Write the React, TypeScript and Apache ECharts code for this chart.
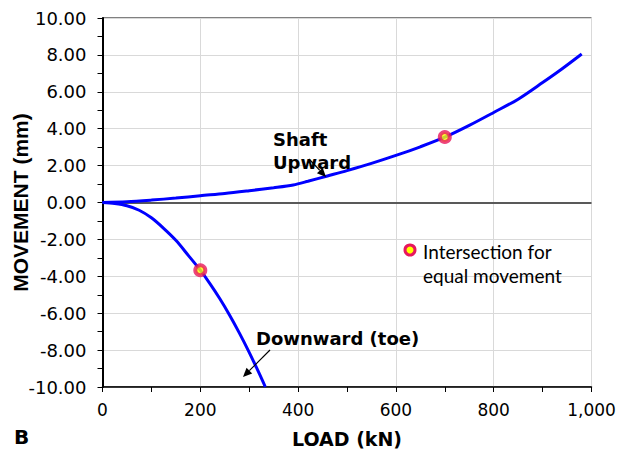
import React, { useEffect, useRef } from "react";
import * as echarts from "echarts";

// Load (kN) vs movement (mm)
const shaftLoad = [0, 50, 100, 150, 200, 250, 300, 350, 390, 420, 460, 500, 550, 600, 650, 700, 750, 800, 850, 900, 940, 980];
const shaftMove = [0, 0.04, 0.13, 0.24, 0.37, 0.49, 0.64, 0.8, 0.95, 1.15, 1.44, 1.73, 2.12, 2.55, 3.02, 3.54, 4.18, 4.88, 5.6, 6.5, 7.25, 8.05];

const toeLoad = [0, 25, 50, 75, 100, 125, 150, 175, 200, 220, 240, 260, 280, 300, 320, 333];
const toeMove = [0, -0.06, -0.18, -0.42, -0.83, -1.4, -2.05, -2.85, -3.67, -4.41, -5.22, -6.11, -7.08, -8.12, -9.24, -10];

const intersectLoad = [700, 200];
const intersectMove = [3.55, -3.67];

const FONT = "DejaVu Sans";

function arrow(x1: number, y1: number, x2: number, y2: number) {
  const ang = Math.atan2(y2 - y1, x2 - x1);
  const L = 9, W = 4;
  const bx = x2 - L * Math.cos(ang), by = y2 - L * Math.sin(ang);
  const px = -Math.sin(ang) * W, py = Math.cos(ang) * W;
  return [
    { type: "line", z: 10, shape: { x1, y1, x2: bx, y2: by }, style: { stroke: "#000", lineWidth: 1.2 } },
    { type: "polygon", z: 10, shape: { points: [[x2, y2], [bx + px, by + py], [bx - px, by - py]] }, style: { fill: "#000" } },
  ];
}

export default function App() {
  const ref = useRef<HTMLDivElement>(null);
  useEffect(() => {
    document.body.style.margin = "0";
    const chart = echarts.init(ref.current!, undefined, { renderer: "svg" });
    const shaft = shaftLoad.map((x, i) => [x, shaftMove[i]]);
    const toe = toeLoad.map((x, i) => [x, toeMove[i]]);
    const inter = intersectLoad.map((x, i) => [x, intersectMove[i]]);
    chart.setOption({
      animation: false,
      backgroundColor: "#fff",
      grid: {
        left: 102.5, right: 29.5, top: 18, bottom: 66,
        show: true, borderColor: "#000", borderWidth: 1,
        outerBoundsMode: "none",
      },
      xAxis: {
        type: "value", min: 0, max: 1000, interval: 200,
        name: "LOAD (kN)", nameLocation: "middle", nameGap: 42, nameMoveOverlap: false,
        nameTextStyle: { fontFamily: FONT, fontWeight: "bold", fontSize: 19, color: "#000" },
        axisLine: { onZero: false, lineStyle: { color: "#000", width: 1.5 } },
        axisTick: { show: true, length: 5, lineStyle: { color: "#000" } },
        minorTick: { show: true, splitNumber: 2, length: 5, lineStyle: { color: "#000" } },
        splitLine: { show: true, lineStyle: { color: "#d9d9d9", width: 1 } },
        axisLabel: {
          fontFamily: FONT, fontSize: 17, color: "#000", margin: 14,
          alignMinLabel: "center", alignMaxLabel: "center",
          formatter: (v: number) => v.toLocaleString("en-US"),
        },
      },
      yAxis: {
        type: "value", min: -10, max: 10, interval: 2,
        name: "MOVEMENT (mm)", nameLocation: "middle", nameGap: 72, nameMoveOverlap: false,
        nameTextStyle: { fontFamily: "Liberation Sans", fontWeight: "bold", fontSize: 21, color: "#000" },
        axisLine: { onZero: false, lineStyle: { color: "#000", width: 2 } },
        axisTick: { show: true, length: 5, lineStyle: { color: "#000" } },
        minorTick: { show: true, splitNumber: 2, length: 5, lineStyle: { color: "#000" } },
        splitLine: { show: true, lineStyle: { color: "#d9d9d9", width: 1 } },
        axisLabel: {
          fontFamily: FONT, fontSize: 18, color: "#000", margin: 16,
          formatter: (v: number) => v.toFixed(2),
        },
      },
      series: [
        {
          name: "Shaft Upward", type: "line", data: shaft, smooth: 0.3, showSymbol: false,
          lineStyle: { color: "#0000ff", width: 3 }, z: 3,
          markLine: {
            silent: true, symbol: "none", label: { show: false },
            lineStyle: { color: "#595959", width: 2, type: "solid" },
            data: [{ yAxis: 0 }],
            z: 2,
          },
        },
        {
          name: "Downward (toe)", type: "line", data: toe, smooth: 0.3, showSymbol: false,
          lineStyle: { color: "#0000ff", width: 3 }, z: 3,
        },
        {
          name: "Intersection for equal movement", type: "scatter", data: inter,
          symbol: "circle", symbolSize: 10, z: 5,
          itemStyle: { color: "#ffff00", borderColor: "#e8175d", borderWidth: 4 },
        },
      ],
      graphic: [
        { type: "text", z: 10, left: 14, top: 427, style: { text: "B", fontFamily: FONT, fontWeight: "bold", fontSize: 20, fill: "#000" } },
        { type: "text", z: 10, x: 273, y: 128, style: { text: "Shaft\nUpward", fontFamily: FONT, fontWeight: "bold", fontSize: 18, lineHeight: 23, fill: "#000" } },
        { type: "text", z: 10, x: 256, y: 329, style: { text: "Downward (toe)", fontFamily: FONT, fontWeight: "bold", fontSize: 18, fill: "#000" } },
        ...arrow(309, 159, 326, 177),
        ...arrow(270, 350, 243, 377),
        { type: "circle", z: 10, shape: { cx: 410, cy: 250, r: 5 }, style: { fill: "#ffff00", stroke: "#e8175d", lineWidth: 3 } },
        { type: "text", z: 10, x: 423, y: 239, style: { text: "Intersection for\nequal movement", fontFamily: "Lato", fontSize: 19, lineHeight: 24, fill: "#000" } },
      ],
    });
    return () => chart.dispose();
  }, []);
  return <div ref={ref} style={{ width: 621, height: 453 }} />;
}
